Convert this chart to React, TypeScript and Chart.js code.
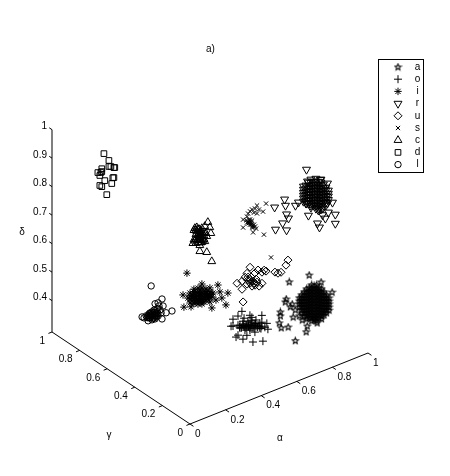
import React, { useEffect, useRef } from "react";
import { Chart, registerables } from "chart.js";
import { drawPoint } from "chart.js/helpers";

Chart.register(...registerables);

const seriesNames = ["a", "o", "i", "r", "u", "s", "c", "d", "l"];
const seriesGamma = [0.3, 0.35, 0.6, 0.3, 0.5, 0.5, 0.7, 0.95, 0.8];

// [alpha, delta], one list per class
const classA = [
  [0.902, 0.491], [0.79, 0.495], [0.969, 0.45], [1.031, 0.399], [0.773, 0.439], [0.768, 0.43], [0.74, 0.402], [0.74, 0.388],
  [0.734, 0.365], [0.745, 0.345], [0.784, 0.338], [0.812, 0.366], [0.885, 0.296], [0.891, 0.315], [0.947, 0.312], [0.824, 0.28],
  [0.796, 0.406], [0.807, 0.413], [0.824, 0.388], [0.846, 0.393], [0.863, 0.343], [0.846, 0.362],
  [0.846, 0.425], [0.846, 0.404], [0.874, 0.439], [0.874, 0.418], [0.874, 0.397], [0.874, 0.376], [0.874, 0.354],
  [0.902, 0.446], [0.902, 0.425], [0.902, 0.404], [0.902, 0.383], [0.902, 0.362], [0.902, 0.341],
  [0.93, 0.446], [0.93, 0.425], [0.93, 0.404], [0.93, 0.383], [0.93, 0.362], [0.93, 0.341], [0.93, 0.327],
  [0.958, 0.432], [0.958, 0.411], [0.958, 0.39], [0.958, 0.369], [0.958, 0.348], [0.958, 0.327],
  [0.986, 0.411], [0.986, 0.39], [0.986, 0.369], [0.986, 0.348], [0.986, 0.33],
  [1.014, 0.383], [1.014, 0.362], [1.014, 0.34],
  [0.86, 0.432], [0.86, 0.411], [0.86, 0.39], [0.86, 0.369],
  [0.888, 0.446], [0.888, 0.425], [0.888, 0.404], [0.888, 0.383], [0.888, 0.362], [0.888, 0.341],
  [0.916, 0.453], [0.916, 0.432], [0.916, 0.411], [0.916, 0.39], [0.916, 0.369], [0.916, 0.348], [0.916, 0.327],
  [0.944, 0.446], [0.944, 0.425], [0.944, 0.404], [0.944, 0.383], [0.944, 0.362], [0.944, 0.341], [0.944, 0.32],
  [0.972, 0.425], [0.972, 0.404], [0.972, 0.383], [0.972, 0.362], [0.972, 0.341], [0.972, 0.32],
  [1.0, 0.397], [1.0, 0.376], [1.0, 0.355], [1.0, 0.334],
  [0.874, 0.428], [0.874, 0.407], [0.874, 0.386], [0.874, 0.365],
  [0.902, 0.435], [0.902, 0.414], [0.902, 0.393], [0.902, 0.372], [0.902, 0.351],
  [0.93, 0.435], [0.93, 0.414], [0.93, 0.393], [0.93, 0.372], [0.93, 0.351], [0.93, 0.334],
  [0.958, 0.421], [0.958, 0.4], [0.958, 0.379], [0.958, 0.358], [0.958, 0.337],
  [0.986, 0.4], [0.986, 0.379], [0.986, 0.358], [0.986, 0.339], [1.014, 0.372], [1.014, 0.351], [0.846, 0.414],
  [0.888, 0.435], [0.888, 0.414], [0.888, 0.393], [0.888, 0.372], [0.888, 0.351],
  [0.916, 0.442], [0.916, 0.421], [0.916, 0.4], [0.916, 0.379], [0.916, 0.358], [0.916, 0.337],
  [0.944, 0.435], [0.944, 0.414], [0.944, 0.393], [0.944, 0.372], [0.944, 0.351], [0.944, 0.33],
  [0.972, 0.414], [0.972, 0.393], [0.972, 0.372], [0.972, 0.351], [0.972, 0.33],
  [1.0, 0.386], [1.0, 0.365], [1.0, 0.344], [0.86, 0.421], [0.86, 0.4], [0.86, 0.379],
];
const classO = [
  [0.563, 0.432], [0.513, 0.417], [0.575, 0.405], [0.675, 0.39], [0.502, 0.395], [0.709, 0.333], [0.513, 0.393], [0.541, 0.354],
  [0.569, 0.333], [0.625, 0.309], [0.681, 0.298], [0.53, 0.35], [0.58, 0.362], [0.675, 0.366], [0.703, 0.355], [0.692, 0.344],
  [0.552, 0.386], [0.569, 0.386], [0.586, 0.378], [0.603, 0.377], [0.619, 0.369], [0.636, 0.369], [0.653, 0.361], [0.608, 0.362],
  [0.631, 0.356], [0.642, 0.382], [0.614, 0.388], [0.597, 0.389], [0.664, 0.348], [0.541, 0.421], [0.608, 0.407], [0.636, 0.341],
  [0.591, 0.341], [0.552, 0.376], [0.675, 0.352], [0.619, 0.397], [0.541, 0.389], [0.575, 0.374], [0.597, 0.372], [0.619, 0.38],
  [0.642, 0.36], [0.664, 0.365], [0.569, 0.396], [0.608, 0.355], [0.586, 0.368],
  [0.55, 0.38], [0.56, 0.375], [0.57, 0.38], [0.58, 0.375], [0.59, 0.375], [0.6, 0.37], [0.61, 0.37], [0.62, 0.36], [0.63, 0.365],
  [0.64, 0.37], [0.65, 0.355], [0.66, 0.355], [0.67, 0.345],
];
const classI = [
  [0.448, 0.514], [0.622, 0.429], [0.678, 0.387], [0.633, 0.402], [0.644, 0.378], [0.667, 0.348], [0.588, 0.357], [0.532, 0.455],
  [0.426, 0.443], [0.431, 0.399], [0.471, 0.39], [0.594, 0.408], [0.454, 0.425], [0.476, 0.43], [0.476, 0.409], [0.499, 0.435],
  [0.499, 0.414], [0.499, 0.397], [0.521, 0.437], [0.521, 0.416], [0.521, 0.395], [0.543, 0.427], [0.543, 0.406], [0.543, 0.389],
  [0.566, 0.411], [0.566, 0.394], [0.588, 0.395], [0.465, 0.405], [0.487, 0.448], [0.577, 0.43], [0.611, 0.379],
  [0.465, 0.44], [0.465, 0.419], [0.487, 0.431], [0.487, 0.413], [0.487, 0.399], [0.51, 0.446], [0.51, 0.429], [0.51, 0.408], [0.51, 0.39],
  [0.532, 0.441], [0.532, 0.423], [0.532, 0.402], [0.532, 0.385], [0.555, 0.432], [0.555, 0.414], [0.555, 0.393],
  [0.577, 0.416], [0.577, 0.398], [0.577, 0.381],
  [0.465, 0.43], [0.476, 0.42], [0.487, 0.422], [0.499, 0.425], [0.51, 0.418], [0.51, 0.4], [0.521, 0.426], [0.521, 0.405], [0.532, 0.412],
  [0.532, 0.393], [0.543, 0.416], [0.543, 0.398], [0.555, 0.423], [0.555, 0.403], [0.566, 0.402], [0.577, 0.407], [0.588, 0.405], [0.499, 0.406], [0.487, 0.44],
];
const classR = [
  [0.887, 0.865], [0.764, 0.791], [0.708, 0.777], [0.769, 0.768], [0.825, 0.754], [0.775, 0.736], [0.786, 0.719], [0.753, 0.71],
  [0.713, 0.698], [0.775, 0.68], [0.898, 0.701], [0.949, 0.661], [0.96, 0.644], [1.049, 0.667], [1.049, 0.635], [0.993, 0.667],
  [1.01, 0.684], [1.033, 0.713], [0.965, 0.81], [1.005, 0.787], [0.893, 0.822], [0.842, 0.761], [0.977, 0.683],
  [0.87, 0.81], [0.87, 0.788], [0.87, 0.768], [0.898, 0.817], [0.898, 0.796], [0.898, 0.775], [0.898, 0.754], [0.887, 0.746],
  [0.926, 0.813], [0.926, 0.792], [0.926, 0.771], [0.926, 0.75], [0.926, 0.729], [0.954, 0.806], [0.954, 0.785], [0.954, 0.764],
  [0.954, 0.743], [0.954, 0.722], [0.982, 0.789], [0.982, 0.768], [0.982, 0.747], [0.982, 0.726], [1.01, 0.761], [1.01, 0.74],
  [1.005, 0.717], [0.977, 0.706], [0.954, 0.705],
  [0.884, 0.81], [0.884, 0.789], [0.884, 0.768], [0.884, 0.747],
  [0.912, 0.824], [0.912, 0.803], [0.912, 0.782], [0.912, 0.761], [0.912, 0.74], [0.912, 0.726],
  [0.94, 0.82], [0.94, 0.799], [0.94, 0.778], [0.94, 0.757], [0.94, 0.736], [0.94, 0.715],
  [0.968, 0.81], [0.968, 0.789], [0.968, 0.768], [0.968, 0.747], [0.968, 0.726], [0.968, 0.705],
  [0.996, 0.775], [0.996, 0.754], [0.996, 0.733], [0.996, 0.712],
  [0.87, 0.799], [0.87, 0.778], [0.87, 0.757], [0.898, 0.806], [0.898, 0.785], [0.898, 0.764], [0.898, 0.743],
  [0.926, 0.802], [0.926, 0.781], [0.926, 0.76], [0.926, 0.739], [0.954, 0.795], [0.954, 0.774], [0.954, 0.753], [0.954, 0.732], [0.954, 0.713],
  [0.982, 0.778], [0.982, 0.757], [0.982, 0.736], [1.01, 0.75], [1.01, 0.728], [0.884, 0.8], [0.884, 0.778], [0.884, 0.757],
  [0.912, 0.813], [0.912, 0.792], [0.912, 0.771], [0.912, 0.75], [0.912, 0.733], [0.94, 0.81], [0.94, 0.788], [0.94, 0.767], [0.94, 0.746], [0.94, 0.725],
  [0.968, 0.8], [0.968, 0.778], [0.968, 0.757], [0.968, 0.736], [0.968, 0.715], [0.996, 0.765], [0.996, 0.743], [0.996, 0.722],
];
const classU = [
  [0.938, 0.47], [0.927, 0.455], [0.725, 0.498], [0.708, 0.481], [0.77, 0.477], [0.753, 0.471], [0.792, 0.464], [0.804, 0.468],
  [0.815, 0.462], [0.865, 0.446], [0.882, 0.438], [0.899, 0.437], [0.652, 0.46], [0.68, 0.432], [0.792, 0.425], [0.686, 0.386],
  [0.697, 0.47], [0.714, 0.455], [0.731, 0.462], [0.725, 0.442], [0.742, 0.445], [0.753, 0.428], [0.736, 0.429], [0.764, 0.436],
  [0.708, 0.443], [0.776, 0.419], [0.68, 0.46], [0.725, 0.452], [0.748, 0.437], [0.714, 0.466], [0.759, 0.448],
];
const classS = [
  [0.815, 0.699], [0.764, 0.705], [0.736, 0.698], [0.798, 0.675], [0.714, 0.689], [0.753, 0.697], [0.775, 0.688], [0.725, 0.694],
  [0.747, 0.684], [0.708, 0.68], [0.686, 0.675], [0.703, 0.668], [0.719, 0.667], [0.725, 0.659], [0.736, 0.659], [0.714, 0.654],
  [0.731, 0.647], [0.747, 0.642], [0.742, 0.633], [0.759, 0.625], [0.686, 0.647], [0.742, 0.616], [0.803, 0.593], [0.764, 0.677],
  [0.843, 0.503], [0.725, 0.648], [0.736, 0.635], [0.708, 0.659], [0.753, 0.634],
  [0.72, 0.655], [0.73, 0.653], [0.735, 0.645], [0.74, 0.64], [0.715, 0.66], [0.725, 0.665],
];
const classC = [
  [0.643, 0.612], [0.654, 0.591], [0.66, 0.569], [0.626, 0.602], [0.57, 0.609], [0.581, 0.609], [0.593, 0.6], [0.609, 0.599],
  [0.632, 0.576], [0.621, 0.582], [0.604, 0.583], [0.615, 0.57], [0.598, 0.57], [0.621, 0.558], [0.637, 0.564], [0.593, 0.561],
  [0.609, 0.55], [0.559, 0.559], [0.576, 0.555], [0.587, 0.555], [0.581, 0.574], [0.598, 0.521], [0.637, 0.508], [0.665, 0.469],
  [0.576, 0.569], [0.593, 0.586], [0.604, 0.593], [0.615, 0.556], [0.576, 0.586], [0.598, 0.542], [0.581, 0.595], [0.626, 0.549], [0.565, 0.603],
  [0.576, 0.6], [0.587, 0.6], [0.598, 0.59], [0.61, 0.585], [0.587, 0.58], [0.598, 0.578], [0.61, 0.565], [0.621, 0.57], [0.604, 0.56],
  [0.593, 0.57], [0.587, 0.565], [0.57, 0.565], [0.565, 0.57], [0.604, 0.55],
];
const classD = [
  [0.253, 0.869], [0.281, 0.838], [0.281, 0.817], [0.309, 0.806], [0.314, 0.805], [0.292, 0.814], [0.241, 0.819], [0.219, 0.811],
  [0.236, 0.807], [0.241, 0.809], [0.23, 0.798], [0.303, 0.772], [0.309, 0.771], [0.258, 0.773], [0.297, 0.753], [0.23, 0.763],
  [0.241, 0.756], [0.269, 0.721],
];
const classL = [
  [0.402, 0.416], [0.463, 0.355], [0.519, 0.299], [0.424, 0.348], [0.441, 0.347], [0.469, 0.329], [0.452, 0.32], [0.486, 0.301],
  [0.463, 0.285], [0.351, 0.32], [0.362, 0.314], [0.374, 0.318], [0.39, 0.321], [0.407, 0.324], [0.396, 0.306], [0.413, 0.308],
  [0.424, 0.295], [0.43, 0.311], [0.441, 0.301], [0.418, 0.327], [0.435, 0.327], [0.458, 0.308], [0.446, 0.335], [0.407, 0.296],
  [0.385, 0.298], [0.385, 0.315], [0.396, 0.323], [0.407, 0.31], [0.418, 0.3], [0.43, 0.304], [0.39, 0.307], [0.413, 0.319],
  [0.435, 0.317], [0.424, 0.306], [0.402, 0.315],
  [0.39, 0.315], [0.4, 0.31], [0.41, 0.315], [0.42, 0.31], [0.43, 0.3], [0.38, 0.31], [0.41, 0.3], [0.4, 0.32], [0.43, 0.315], [0.42, 0.32], [0.44, 0.31],
];
const classes = [classA, classO, classI, classR, classU, classS, classC, classD, classL];

const alphaTicks = [0, 0.2, 0.4, 0.6, 0.8, 1];
const gammaTicks = [0, 0.2, 0.4, 0.6, 0.8, 1];
const deltaTicks = [0.4, 0.5, 0.6, 0.7, 0.8, 0.9, 1];
const deltaFloor = 0.29;

// orthographic view of the (alpha, gamma, delta) box
const project = (a: number, g: number, d: number) => ({
  x: 1.78 * a - 1.38 * g,
  y: 0.71 * a + 0.92 * g + 2.85 * (d - deltaFloor),
});

function makePentagram() {
  const c = document.createElement("canvas");
  c.width = 9;
  c.height = 9;
  const ctx = c.getContext("2d")!;
  ctx.strokeStyle = "#000";
  ctx.lineWidth = 1.1;
  ctx.beginPath();
  for (let i = 0; i < 10; i++) {
    const r = i % 2 === 0 ? 3.2 : 1.4;
    const t = -Math.PI / 2 + (i * Math.PI) / 5;
    const px = 4.5 + r * Math.cos(t);
    const py = 4.7 + r * Math.sin(t);
    if (i === 0) ctx.moveTo(px, py);
    else ctx.lineTo(px, py);
  }
  ctx.closePath();
  ctx.stroke();
  return c;
}

const axisDataset = (pts: { x: number; y: number }[]) => ({
  type: "line" as const,
  data: pts,
  borderColor: "#000",
  borderWidth: 1,
  pointRadius: 0,
  showLine: true,
  fill: false,
  parsing: false as const,
  order: 50,
});

export default function App() {
  const ref = useRef<HTMLCanvasElement>(null);
  useEffect(() => {
    document.body.style.margin = "0";
    const font = '10px "Liberation Sans"';
    const styles: any[] = [
      { pointStyle: makePentagram(), radius: 4, rotation: 0 },
      { pointStyle: "cross", radius: 4, rotation: 0 },
      { pointStyle: "star", radius: 3.7, rotation: 0 },
      { pointStyle: "triangle", radius: 4.6, rotation: 180 },
      { pointStyle: "rectRot", radius: 4, rotation: 0 },
      { pointStyle: "crossRot", radius: 3, rotation: 0 },
      { pointStyle: "triangle", radius: 4.5, rotation: 0 },
      { pointStyle: "rect", radius: 4, rotation: 0 },
      { pointStyle: "circle", radius: 3.2, rotation: 0 },
    ];

    const scatterSets = classes.map((pts, i) => ({
      type: "scatter" as const,
      label: seriesNames[i],
      data: pts.map(([a, d]) => project(a, seriesGamma[i], d)),
      pointStyle: styles[i].pointStyle,
      pointRadius: styles[i].radius,
      rotation: styles[i].rotation,
      pointBorderColor: "#000",
      pointBackgroundColor: "rgba(0,0,0,0)",
      pointBorderWidth: 1,
      showLine: false,
      order: 10,
    }));

    const axisLines = [
      axisDataset([project(0, 0, deltaFloor), project(1, 0, deltaFloor)]),
      axisDataset([project(0, 0, deltaFloor), project(0, 1, deltaFloor)]),
      axisDataset([project(0, 1, deltaFloor), project(0, 1, 1)]),
      ...alphaTicks.map((t) => axisDataset([project(t, 0, deltaFloor), project(t, -0.025, deltaFloor)])),
      ...gammaTicks.map((t) => axisDataset([project(0, t, deltaFloor), project(-0.02, t, deltaFloor)])),
      ...deltaTicks.map((t) => axisDataset([project(0, 1, t), project(0, 1.02, t)])),
    ];

    const texts = {
      id: "boxTexts",
      afterDraw(chart: any) {
        const { ctx } = chart;
        const sx = chart.scales.x;
        const sy = chart.scales.y;
        const px = (p: { x: number; y: number }) => ({ x: sx.getPixelForValue(p.x), y: sy.getPixelForValue(p.y) });
        ctx.save();
        ctx.fillStyle = "#000";
        ctx.font = font;
        ctx.textBaseline = "middle";
        ctx.textAlign = "left";
        alphaTicks.forEach((t) => {
          const p = px(project(t, 0, deltaFloor));
          ctx.fillText(String(t), p.x + 5, p.y + 10);
        });
        ctx.textAlign = "right";
        gammaTicks.forEach((t) => {
          const p = px(project(0, t, deltaFloor));
          ctx.fillText(String(t), p.x - 7, p.y + 9);
        });
        deltaTicks.forEach((t) => {
          const p = px(project(0, 1, t));
          ctx.fillText(String(t), p.x - 5, p.y - 3);
        });
        ctx.textAlign = "center";
        const alphaMid = px(project(0.5, 0, deltaFloor));
        ctx.fillText("α", alphaMid.x + 1, alphaMid.y + 50);
        const gammaMid = px(project(0, 0.5, deltaFloor));
        ctx.fillText("γ", gammaMid.x - 12, gammaMid.y + 57);
        const deltaMid = px(project(0, 1, 0.645));
        ctx.fillText("δ", deltaMid.x - 30, deltaMid.y + 1);
        ctx.fillText("a)", 210.5, 49);

        // legend
        ctx.fillStyle = "#fff";
        ctx.fillRect(378.5, 59.5, 45, 113);
        ctx.strokeStyle = "#000";
        ctx.lineWidth = 1;
        ctx.strokeRect(378.5, 59.5, 45, 113);
        seriesNames.forEach((name, i) => {
          const y = 67 + i * 12.2;
          ctx.strokeStyle = "#000";
          ctx.fillStyle = "rgba(0,0,0,0)";
          ctx.beginPath();
          drawPoint(ctx, { pointStyle: styles[i].pointStyle, radius: styles[i].radius, rotation: styles[i].rotation, borderWidth: 1 }, 398, y);
          ctx.fillStyle = "#000";
          ctx.fillText(name, 417.5, y);
        });
        ctx.restore();
      },
    };

    const chart = new Chart(ref.current!, {
      type: "scatter",
      data: { datasets: [...scatterSets, ...axisLines] as any },
      options: {
        responsive: false,
        animation: false,
        layout: { padding: 0, autoPadding: false },
        plugins: { legend: { display: false }, tooltip: { enabled: false }, title: { display: false } },
        scales: {
          x: { type: "linear", display: false, min: -1.9, max: 2.6 },
          y: { type: "linear", display: false, min: -0.52, max: 4.24 },
        },
      },
      plugins: [texts],
    });
    return () => chart.destroy();
  }, []);
  return <canvas ref={ref} width={450} height={476} style={{ display: "block" }} />;
}
